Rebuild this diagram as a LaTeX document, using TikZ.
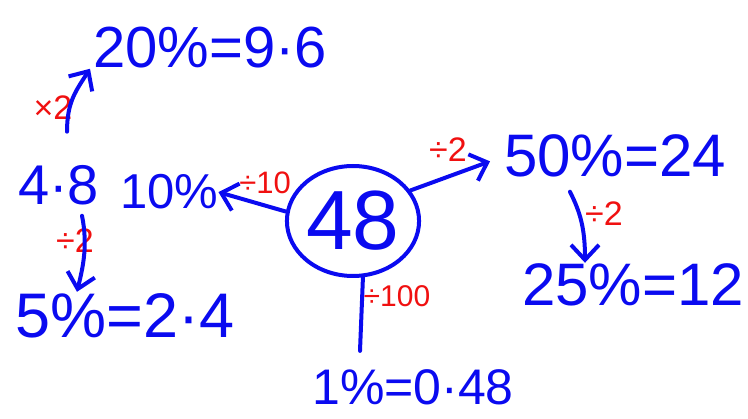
\documentclass[tikz,border=0pt]{standalone}
\usepackage{fontspec}
\setmainfont{Liberation Sans}
\usetikzlibrary{arrows.meta,shapes.geometric}
\definecolor{penblue}{HTML}{0A0AF0}
\definecolor{penred}{HTML}{F01010}

\begin{document}
\begin{tikzpicture}[
  x=1pt, y=-1pt,
  >={Straight Barb[length=15pt,width=28pt]},
  pen/.style={draw=penblue, line width=4pt, line cap=round, line join=round},
  val/.style={text=penblue, inner sep=0pt, anchor=base west},
  opnote/.style={text=penred, inner sep=0pt, font=\fontsize{34}{34}\selectfont}
]
  \useasboundingbox (0,0) rectangle (748,419);

  % centre value
  \node[pen, ellipse, inner sep=0pt, minimum width=128pt, minimum height=110pt,
        text=penblue, font=\fontsize{84}{84}\selectfont] (whole) at (353,221) {48};

  % percentages
  \node[val, font=\fontsize{58}{58}\selectfont] (pct20) at (93,68) {20\%=9·6};
  \node[val, font=\fontsize{56}{56}\selectfont] (val48) at (18,205) {4·8};
  \node[val, font=\fontsize{49}{49}\selectfont] (pct10) at (120,209) {10\%};
  \node[val, font=\fontsize{63}{63}\selectfont] (pct5) at (15,338) {5\%=2·4};
  \node[val, font=\fontsize{60}{60}\selectfont] (pct50) at (504,177) {50\%=24};
  \node[val, font=\fontsize{60}{60}\selectfont] (pct25) at (522,306) {25\%=12};
  \node[val, font=\fontsize{50}{50}\selectfont] (pct1) at (312,405) {1\%=0·48};

  % operations
  \node[opnote, font=\fontsize{31}{31}\selectfont] (div10) at (265,183) {÷10};
  \node[opnote] (div2a) at (448,150) {÷2};
  \node[opnote] (div2b) at (604,214) {÷2};
  \node[opnote] (div2c) at (75,241) {÷2};
  \node[opnote, font=\fontsize{30}{30}\selectfont] (div100) at (397,296) {÷100};
  \node[opnote] (times2) at (53,108) {×2};

  % connectors
  \draw[pen,->] (whole.172) -- (pct10.east);
  \draw[pen,->] (whole.28) -- ([shift={(-14,5)}]pct50.west);
  \draw[pen,->] ([shift={(66,14)}]pct50.south west)
    .. controls +(10,20) and +(0,-35) .. ([shift={(63,-44)}]pct25.south west);
  \draw[pen,->] ([shift={(64,10)}]val48.south west)
    .. controls +(6,30) and +(6,-25) .. ([shift={(62,-2)}]pct5.north west);
  \draw[pen,->] ([shift={(49,-34)}]val48.north west)
    .. controls +(0,-30) and +(-14,22) .. ([shift={(-3,0)}]pct20.south west);
  \draw[pen] (whole.-80) -- ([shift={(48,-19)}]pct1.north west);

\end{tikzpicture}
\end{document}
